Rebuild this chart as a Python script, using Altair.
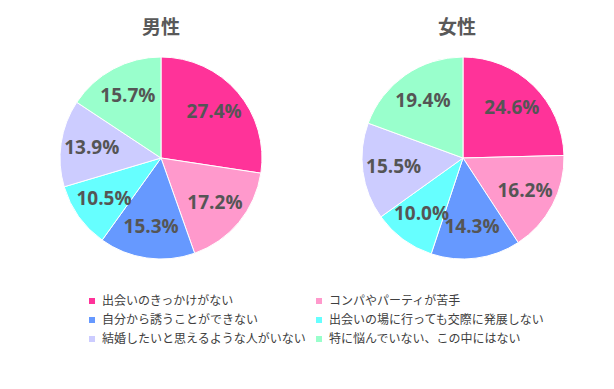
import altair as alt
import pandas as pd

categories = [
    "出会いのきっかけがない",
    "コンパやパーティが苦手",
    "自分から誘うことができない",
    "出会いの場に行っても交際に発展しない",
    "結婚したいと思えるような人がいない",
    "特に悩んでいない、この中にはない",
]
male_values = [27.4, 17.2, 15.3, 10.5, 13.9, 15.7]
female_values = [24.6, 16.2, 14.3, 10.0, 15.5, 19.4]
colors = ["#FF3399", "#FF99CC", "#6699FF", "#66FFFF", "#CCCCFF", "#99FFCC"]
titles = ["男性", "女性"]


def make_df(values):
    return pd.DataFrame({
        "category": categories,
        "value": values,
        "idx": list(range(len(categories))),
    })


legend = alt.Legend(
    title=None, orient="none", legendX=50, legendY=251, columns=2, direction="horizontal",
    symbolType="square", symbolSize=36, symbolStrokeWidth=0,
    labelFont="Noto Sans CJK JP", labelFontSize=12, labelColor="#404040",
    labelLimit=400, rowPadding=7, columnPadding=6, padding=0, labelOffset=4,
)


def pie(values, title, dx):
    base = alt.Chart(make_df(values)).transform_calculate(
        label="format(datum.value, '.1f') + '%'"
    ).encode(
        theta=alt.Theta("value:Q", stack=True),
        order=alt.Order("idx:Q"),
    )
    arc = base.mark_arc(radius=101, stroke="white", strokeWidth=1).encode(
        color=alt.Color("category:N", scale=alt.Scale(domain=categories, range=colors),
                        legend=legend, sort=categories)
    )
    text = base.mark_text(radius=70, font="Open Sans", fontWeight="bold", fontSize=19).encode(
        text="label:N", color=alt.value("#555555")
    )
    return alt.layer(arc, text).properties(
        width=250, height=228,
        title=alt.Title(title, font="Noto Sans CJK JP", fontSize=19, fontWeight="bold",
                        color="#595959", offset=6, dx=dx),
    )


chart = alt.hconcat(pie(male_values, titles[0], 0), pie(female_values, titles[1], -6), spacing=52
).properties(padding={"left": 28, "top": 11, "right": 5, "bottom": 5}
).configure_view(stroke=None)

chart.save("out.html", embed_options={"renderer": "svg", "actions": False})
